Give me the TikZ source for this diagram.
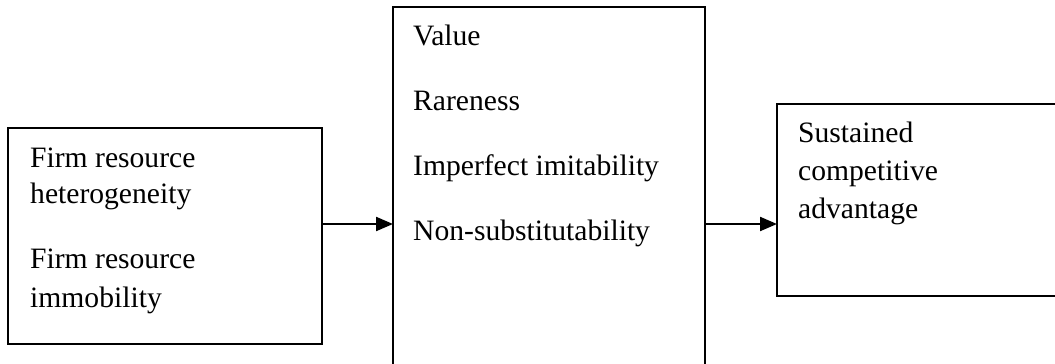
\documentclass[tikz,border=0pt]{standalone}
\usepackage{fontspec}
\setmainfont{Liberation Serif}
\usetikzlibrary{arrows.meta}
\begin{document}
\begin{tikzpicture}[x=1pt,y=-1pt,
  boxline/.style={draw=black,line width=2.3pt},
  label/.style={anchor=base west,inner sep=0pt,font=\fontsize{29.6}{35}\selectfont},
  link/.style={line width=2.2pt,-{Triangle[length=17pt,width=14pt]}}]
\useasboundingbox (0,0) rectangle (1055,364);
\clip (0,0) rectangle (1055,364);
% three boxes: resources, attributes, outcome
\draw[boxline] (8,128) rectangle (322,344);
\draw[boxline] (393,7) rectangle (705,390);
\draw[boxline] (777,104) rectangle (1080,296);
\coordinate (lbE) at (322,224);
\coordinate (mbW) at (393,224);
\coordinate (mbE) at (705,224);
\coordinate (rbW) at (777,224);
% left box text
\node[label] (l1) at (30,167) {Firm resource};
\node[label] (l2) at (30,203) {heterogeneity};
\node[label] (l3) at (30,268) {Firm resource};
\node[label] (l4) at (30,307) {immobility};
% middle box text
\node[label] (m1) at (413,45) {Value};
\node[label] (m2) at (413,110) {Rareness};
\node[label] (m3) at (413,175) {Imperfect imitability};
\node[label] (m4) at (413,240) {Non-substitutability};
% right box text
\node[label] (r1) at (798,142) {Sustained};
\node[label] (r2) at (798,180) {competitive};
\node[label] (r3) at (798,218) {advantage};
% connectors
\draw[link] (lbE) -- (mbW);
\draw[link] (mbE) -- (rbW);
\end{tikzpicture}
\end{document}
